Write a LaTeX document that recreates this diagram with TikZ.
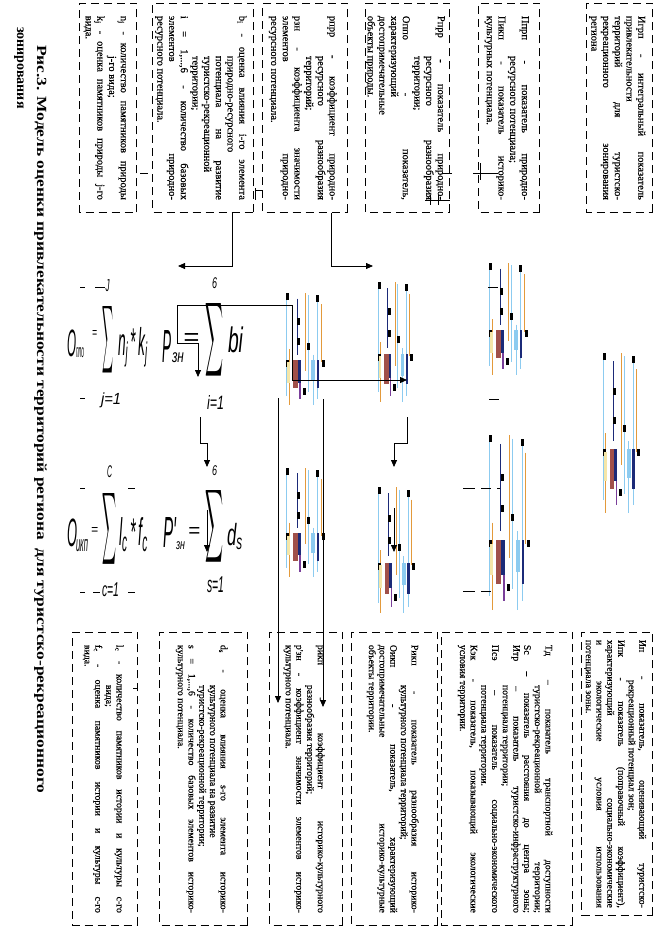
\documentclass[tikz,border=0pt]{standalone}
\usepackage{fontspec}
\setmainfont{Liberation Serif}
\newfontfamily\fsans{Liberation Sans}
\newfontface\boxfont{Liberation Serif}[FakeBold=0.4]
\usepackage{graphicx}
\usepackage{tikz}
\usetikzlibrary{positioning, arrows.meta, calc}

% colours of the broken formula pictures
\definecolor{gl}{HTML}{8CCBF0}
\definecolor{go}{HTML}{E39A3B}
\definecolor{gn}{HTML}{1B2A78}
\definecolor{gb}{HTML}{A0504A}
\definecolor{gp}{HTML}{7A3F9A}
\definecolor{gy}{HTML}{F5E6A8}

\newcommand{\ent}{\par\noindent\hangindent=40pt\hangafter=1\relax}
\newcommand{\jend}{{\parfillskip=0pt\par}}
\newcommand{\garble}[4]{%
  \begin{scope}[shift={(#1,#2)}, x={({#3-#1},0)}, y={(0,{#4-#2})}]
    \foreach \u/\va/\vb/\col in {0.04/0/0.92/gl, 0.1/0.5/1/go, 0.3/0.05/0.55/gn, 0.5/0/0.7/go, 0.58/0.02/0.88/gl, 0.82/0.05/0.95/gl, 0.9/0.1/0.62/go, 0.7/0.55/1/gl}
      \draw[color=\col, line width=1pt] (\u,\va) -- (\u,\vb);
    \foreach \u/\v in {0.02/0, 0.3/0.22, 0.3/0.4, 0.78/0.02, 0.55/0.45, 0.02/0.6, 0.93/0.6, 0.45/0.85}
      \fill[black] (\u,\v) rectangle ++(3pt,-7pt);
    \fill[gb] (0.2,0.6) rectangle (0.32,0.85);
    \fill[gn] (0.32,0.6) rectangle (0.4,0.8);
    \fill[gp] (0.36,0.8) rectangle (0.4,0.95);
    \fill[gl] (0.66,0.6) rectangle (0.76,0.78);
    \fill[gn] (0.8,0.6) rectangle (0.86,0.85);
    \fill[gy] (0.05,0.62) rectangle (0.12,0.8);
  \end{scope}}

\tikzset{
  defbox/.style={draw, dash pattern=on 8pt off 5pt, line width=0.8pt, rotate=-90,
    anchor=north west, inner xsep=0pt, inner ysep=0pt, align=justify},
  topbox/.style={defbox, text width=184pt, minimum width=209pt,
    font=\boxfont\fontsize{10.5}{11.7}\selectfont},
  botbox/.style={defbox, text width=268pt, minimum width=293pt,
    font=\boxfont\fontsize{9.8}{10.7}\selectfont},
  >={Triangle[length=7pt,width=6pt]},
  conn/.style={line width=0.8pt, ->},
  fp/.style={inner sep=0pt, font=\fsans\itshape},
  bit/.style={line width=0.8pt},
  caption/.style={rotate=-90, anchor=base west, inner sep=0pt,
    font=\bfseries\fontsize{14}{18}\selectfont},
}

\begin{document}
\begin{tikzpicture}[x=1pt, y=-1pt]
    \useasboundingbox (0,0) rectangle (665,926);

    % upper row of definitions
    \node[topbox, minimum height=66pt] (b1) at (653,3) {\ent Игрп - интегральный показатель\linebreak привлекательности\hfil\break территорий для туристско-\linebreak рекреационного зонирования\linebreak региона};
    \node[topbox, minimum height=61pt] (b2) at (540,3) {\ent Ппрп - показатель природно-\linebreak ресурсного потенциала;\ent Пикп - показатель историко-\linebreak культурных потенциала.};
    \node[topbox, minimum height=81pt] (b3) at (450,3) {\ent Рпрр - показатель природно-\linebreak ресурсного разнообразия\linebreak территории;\ent Оппо - показатель,\linebreak характеризующий\hfil\break достопримечательные\hfil\break объекты природы.};
    \node[topbox, minimum height=85pt] (b4) at (348,3) {\ent рпрр - коэффициент природно-\linebreak ресурсного разнообразия\linebreak территорий;\ent рзн - коэффициента значимости\linebreak элементов природно-\linebreak ресурсного потенциала.};
    \node[topbox, minimum height=101pt] (b5) at (254,3) {\ent b\textsubscript{i} - оценка влияния i-го элемента\linebreak природно-ресурсного\hfil\break потенциала на развитие\linebreak туристско-рекреационной\hfil\break территории;\ent i = 1,...,6 - количество базовых\linebreak элементов природно-\linebreak ресурсного потенциала.};
    \node[topbox, minimum height=57pt] (b6) at (137,3) {\ent n\textsubscript{j} - количество памятников природы\linebreak j-го вида;\ent k\textsubscript{j} - оценка памятников природы j-го\linebreak вида.};

    % lower row of definitions
    \node[botbox, minimum height=71pt, minimum width=283pt] (b7) at (653,632) {\ent Ип - показатель, оценивающий туристско-\linebreak рекреационный потенциал зон;\ent Ипк - показатель (поправочный коэффициент),\linebreak характеризующий социально-экономические\linebreak и экологические условия использования\linebreak потенциала зоны.};
    \node[botbox, minimum height=131pt] (b8) at (573,632) {\ent Тд – показатель транспортной доступности\linebreak туристско-рекреационной территории;\jend\ent Sc – показатель расстояния до центра зоны;\jend\ent Итр – показатель туристско-инфраструктурного\linebreak потенциала территории;\ent Псэ – показатель социально-экономического\linebreak потенциала территории.\ent Кэк - показатель, показывающий экологические\linebreak условия территории.};
    \node[botbox, minimum height=86pt] (b9) at (438,632) {\ent Рикп - показатель разнообразия историко-\linebreak культурного потенциала территорий;\ent Оикп - показатель, характеризующий\linebreak достопримечательные историко-культурные\linebreak объекты территории.};
    \node[botbox, minimum height=73pt] (b10) at (343,632) {\ent рикп - коэффициент историко-культурного\linebreak разнообразия территорий;\ent р'зн - коэффициент значимости элементов историко-\linebreak культурного потенциала.};
    \node[botbox, minimum height=88pt] (b11) at (248,632) {\ent d\textsubscript{s} - оценка влияния s-го элемента историко-\linebreak культурного потенциала на развитие\hfil\break туристско-рекреационной территории;\ent s = 1,...,6 - количество базовых элементов историко-\linebreak культурного потенциала.};
    \node[botbox, minimum height=65pt] (b12) at (138,632) {\ent l\textsubscript{c} - количество памятников истории и культуры с-го\linebreak вида;\ent f\textsubscript{c} - оценка памятников истории и культуры с-го\linebreak вида.};

    % formulas
    \node[fp] (f1o) at (71.5,343.5) {\resizebox*{9pt}{27pt}{O}};
    \node[fp] (f1s) at (80,353) {\resizebox*{8pt}{10pt}{ппо}};
    \node[fp] (f1eq) at (94.5,333.5) {\resizebox*{5pt}{7pt}{=}};
    \node[fp] (f1sum) at (107.5,340) {\resizebox*{11pt}{76pt}{$\displaystyle\sum$}};
    \node[fp] (f1arg) at (133,347) {\resizebox*{30pt}{40pt}{n\textsubscript{j}\,*\,k\textsubscript{j}}};
    \node[fp] (f1top) at (107.5,286) {\resizebox*{4pt}{12pt}{J}};
    \node[fp] (f1bot) at (111,400) {\resizebox*{20pt}{15pt}{j=1}};

    \node[fp] (f2p) at (166.5,346) {\resizebox*{9pt}{32pt}{P}};
    \node[fp] (f2s) at (178,358) {\resizebox*{12pt}{10pt}{зн}};
    \node[fp] (f2eq) at (191,339) {\resizebox*{16pt}{12pt}{=}};
    \node[fp] (f2sum) at (214,339.5) {\resizebox*{18pt}{83pt}{$\displaystyle\sum$}};
    \node[fp] (f2arg) at (235.5,340) {\resizebox*{15pt}{26pt}{bi}};
    \node[fp] (f2top) at (214.5,283.5) {\resizebox*{5pt}{11pt}{6}};
    \node[fp] (f2bot) at (215.5,402) {\resizebox*{17pt}{14pt}{i=1}};

    \node[fp] (f3o) at (72,533) {\resizebox*{10pt}{28pt}{O}};
    \node[fp] (f3s) at (82,546) {\resizebox*{12pt}{12pt}{икп}};
    \node[fp] (f3eq) at (94.5,530.5) {\resizebox*{7pt}{7pt}{=}};
    \node[fp] (f3sum) at (109,528.5) {\resizebox*{14pt}{81pt}{$\displaystyle\sum$}};
    \node[fp] (f3arg) at (133.5,535) {\resizebox*{29pt}{34pt}{l\textsubscript{c}\,*\,f\textsubscript{c}}};
    \node[fp] (f3top) at (109.5,472) {\resizebox*{5pt}{12pt}{C}};
    \node[fp] (f3bot) at (110.5,590) {\resizebox*{17pt}{14pt}{c=1}};

    \node[fp] (f4p) at (169.5,532) {\resizebox*{13pt}{30pt}{P'}};
    \node[fp] (f4s) at (180.5,546) {\resizebox*{9pt}{8pt}{зн}};
    \node[fp] (f4eq) at (194,532) {\resizebox*{12pt}{10pt}{=}};
    \node[fp] (f4sum) at (214,526) {\resizebox*{18pt}{82pt}{$\displaystyle\sum$}};
    \node[fp] (f4arg) at (235,536.5) {\resizebox*{16pt}{27pt}{d\textsubscript{s}}};
    \node[fp] (f4top) at (214.5,471) {\resizebox*{5pt}{10pt}{6}};
    \node[fp] (f4bot) at (215.5,585) {\resizebox*{17pt}{16pt}{s=1}};

    % formula pictures that did not render
    \garble{285}{293}{325}{405}
    \garble{377}{282}{413}{402}
    \garble{285}{468}{325}{577}
    \garble{377}{487}{415}{613}
    \garble{488}{263}{528}{375}
    \garble{602}{353}{640}{513}
    \garble{488}{435}{530}{610}

    % small leftover strokes
    \foreach \xa/\ya/\xb/\yb in {442/173/452/173, 473/173/498/173, 480/163/480/180,
        425/200/450/200, 430/195/430/205, 438/195/438/205, 255/188/255/200, 255/190/263/190,
        140/173/148/173, 133/688/138/688, 488/287/498/287, 489/399/499/399,
        463/488/475/488, 481/488/491/488, 497/488/500/488, 463/591/475/591, 481/591/491/591,
        80/287/85/287, 95/287/105/287, 80/398/85/398,
        80/488/85/488, 128/488/135/488, 80/592/85/592, 93/592/100/592, 128/592/135/592}
        \draw[bit] (\xa,\ya) -- (\xb,\yb);

    % connectors
    \coordinate (c1e) at (178,266);
    \coordinate (c2e) at (373,266);
    \coordinate (c3a) at (198,377);
    \coordinate (c3b) at (407,380);
    \coordinate (c4s) at (407,417);
    \coordinate (c4e) at (394,467);
    \coordinate (c5s) at (200,417);
    \coordinate (c5e) at (207,467);
    \coordinate (c6s) at (207,510);
    \coordinate (c6e) at (207,552);
    \coordinate (c7s) at (394,508);
    \coordinate (c7e) at (394,552);
    \coordinate (c8s) at (278,398);
    \coordinate (c8e) at (278,703);
    \coordinate (c9s) at (323,399);
    \coordinate (c9e) at (323,707);

    \draw[conn] ($(b5.south east)!0.79!(b5.north east)$) |- (c1e);
    \draw[conn] ($(b4.south east)!0.81!(b4.north east)$) |- (c2e);
    \draw[conn, <->] (c3a) -- (198,343) -- (177,343) -- (177,305) -- (292,305) |- (c3b);
    \draw[conn] (c4s) -- (407,443) -| (c4e);
    \draw[conn] (c5s) -- (200,443) -| (c5e);
    \draw[conn] (c6s) -- (c6e);
    \draw[conn] (c7s) -- (c7e);
    \draw[conn] (c8s) -- (c8e);
    \draw[conn] (c9s) -- (c9e);

    % caption
    \node[caption] (title1) at (37,45) {\resizebox{748pt}{\height}{Рис.3. Модель оценки привлекательности территорий региона\ \ для туристско-рекреационного}};
    \node[caption] (title2) at (17,27) {зонирования};
\end{tikzpicture}
\end{document}
